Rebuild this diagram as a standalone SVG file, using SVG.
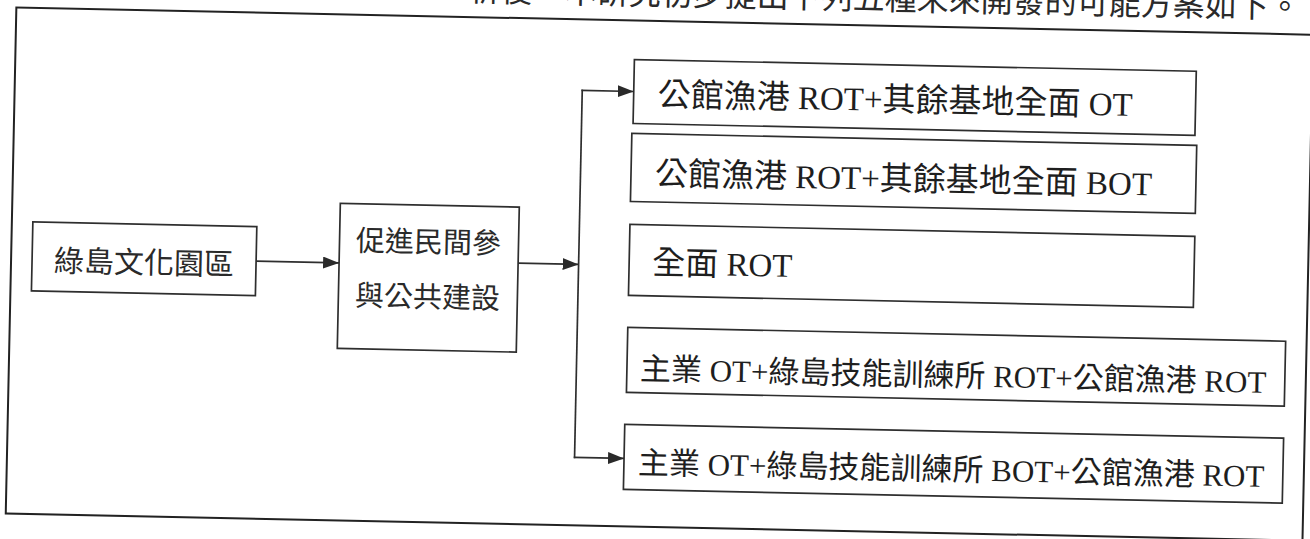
<svg xmlns="http://www.w3.org/2000/svg" width="1310" height="539" viewBox="0 0 1310 539">
  <defs>
    <marker id="arr" markerUnits="userSpaceOnUse" markerWidth="17" markerHeight="13" refX="16" refY="6" orient="auto">
      <path d="M0,0 L16,6 L0,12 z" fill="#2a2a2a"/>
    </marker>
    <style>
      .frame { fill: none; stroke: #222; stroke-width: 2; }
      .box { fill: #fff; stroke: #2e2e2e; stroke-width: 1.7; }
      .conn { fill: none; stroke: #2e2e2e; stroke-width: 1.7; }
      .sans { font-family: "Noto Sans CJK TC", "Noto Sans", sans-serif; fill: #2a2a2a; }
      .ser { font-family: "Liberation Serif", "Noto Sans CJK TC", serif; fill: #1e1e1e; }
      .big { font-size: 33px; }
      .small { font-size: 31px; }
    </style>
  </defs>
  <rect x="0" y="0" width="1310" height="539" fill="#fff"/>
  <g transform="rotate(1.2 655 270)">
    <text class="sans" x="1295" y="5" font-size="32" text-anchor="end">析後，本研究初步提出下列五種未來開發的可能方案如下。</text>
    <rect id="outer-frame" class="frame" x="11" y="21" width="1297" height="506"/>

    <g id="node-greenisland">
      <rect class="box" x="32" y="235" width="224" height="69"/>
      <text class="sans" x="144" y="284" font-size="30" text-anchor="middle">綠島文化園區</text>
    </g>
    <g id="node-ppp">
      <rect class="box" x="339" y="210" width="179" height="145"/>
      <text class="sans" x="428" y="257" font-size="29" text-anchor="middle">促進民間參</text>
      <text class="sans" x="428" y="312" font-size="29" text-anchor="middle">與公共建設</text>
    </g>
    <g id="node-opt1">
      <rect class="box" x="630" y="60" width="562" height="64"/>
      <text class="ser big" x="654" y="106">公館漁港 ROT+其餘基地全面 OT</text>
    </g>
    <g id="node-opt2">
      <rect class="box" x="629" y="134" width="565" height="68"/>
      <text class="ser big" x="653" y="185">公館漁港 ROT+其餘基地全面 BOT</text>
    </g>
    <g id="node-opt3">
      <rect class="box" x="629" y="225" width="565" height="71"/>
      <text class="ser big" x="652" y="274">全面 ROT</text>
    </g>
    <g id="node-opt4">
      <rect class="box" x="629" y="328" width="658" height="65"/>
      <text class="ser small" x="642" y="380">主業 OT+綠島技能訓練所 ROT+公館漁港 ROT</text>
    </g>
    <g id="node-opt5">
      <rect class="box" x="628" y="425" width="659" height="65"/>
      <text class="ser small" x="642" y="474">主業 OT+綠島技能訓練所 BOT+公館漁港 ROT</text>
    </g>

    <g id="connectors">
      <line class="conn" x1="256" y1="269.5" x2="339" y2="269.5" marker-end="url(#arr)"/>
      <line class="conn" x1="518" y1="266" x2="578.5" y2="266" marker-end="url(#arr)"/>
      <line class="conn" x1="578.5" y1="91.2" x2="578.5" y2="459.8"/>
      <line class="conn" x1="577.7" y1="92" x2="630" y2="92" marker-end="url(#arr)"/>
      <line class="conn" x1="577.7" y1="459" x2="628" y2="459" marker-end="url(#arr)"/>
    </g>
  </g>
</svg>
